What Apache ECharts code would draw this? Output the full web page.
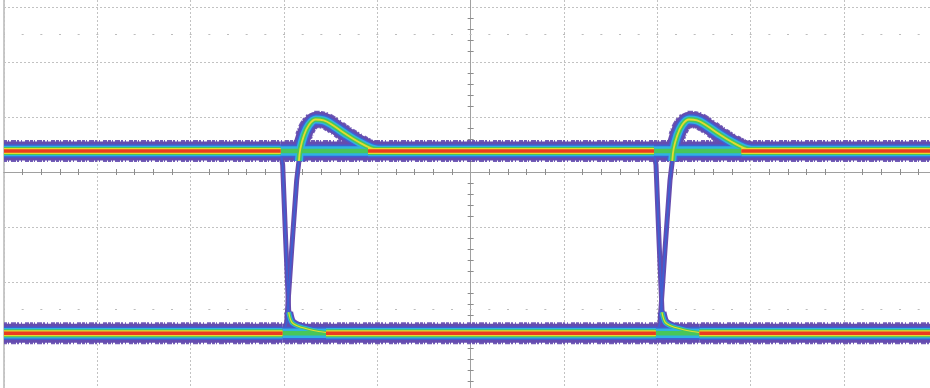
<!DOCTYPE html>
<html>
<head>
<meta charset="utf-8">
<style>
  html, body { margin: 0; padding: 0; background: #ffffff; }
  #scope { width: 930px; height: 388px; }
</style>
<script src="https://cdn.jsdelivr.net/npm/echarts@6/dist/echarts.min.js"></script>
</head>
<body>
<div id="scope"></div>
<script>
// Screen in divisions: time runs -5..5 div, amplitude -4..4 div (centre = 0,0)
const TIME_RANGE = [-5, 5];
const VOLT_RANGE = [-4, 4];

// Logic levels (div) and the two bit edges overlaid on the screen (div)
const HIGH_LEVEL = 0.38;
const LOW_LEVEL = -2.93;
const EDGE_TIMES = [-2, 2];

// Dotted reference rows (div)
const GUIDE_LEVELS = [2.5, -2.5];

// Edge shapes, as [time offset from the edge (div), amplitude (div)]
const FALLING_EDGE = [[-0.06, 0.38], [-0.035, 0.36], [-0.014, 0.13], [0.018, -1.24], [0.05, -2.51], [0.07, -2.68]];
const FALLING_TAIL = [[0.05, -2.55], [0.083, -2.73], [0.147, -2.80], [0.243, -2.85], [0.372, -2.90], [0.522, -2.93]];
const RISING_EDGE = [[-0.03, -2.93], [-0.003, -2.93], [0.029, -2.73], [0.082, -1.42], [0.136, -0.15], [0.168, 0.31]];
const RISING_OVERSHOOT = [[0.16, 0.2], [0.175, 0.42], [0.211, 0.65], [0.265, 0.85], [0.34, 0.955],
  [0.425, 0.94], [0.532, 0.84], [0.661, 0.69], [0.8, 0.545], [0.929, 0.436], [1.057, 0.38]];

// Stretch of each level, around an edge, where only part of the traces pass (div offsets)
const HIGH_SPLIT = [-0.035, 0.9];
const LOW_SPLIT = [-0.015, 0.45];

// Persistence colours, from rare hits to dense hits
const PALETTE = ['#654caf', '#3f5fd2', '#2fb2e2', '#48c65a', '#e4dc2e', '#ec3b20'];

// Layer line widths (px) per trace kind
const LEVEL_WIDTHS = [19, 13.5, 10.5, 8, 6, 3.5];
const PARTIAL_WIDTHS = [19, 13, 9.5, 4.5];
const OVERSHOOT_WIDTHS = [15.5, 11, 8, 5, 1.8];
const TAIL_WIDTHS = [9, 6.5, 4.5, 3, 1.2];
const EDGE_WIDTHS = [5, 1.8];

const shift = (pts, t) => pts.map(([dx, v]) => [t + dx, v]);

// Level segments: full density away from the edges, partial density right after each edge
function levelSegments(level, split) {
  const full = [];
  const partial = [];
  let start = TIME_RANGE[0];
  EDGE_TIMES.forEach(t => {
    full.push([[start, level], [t + split[0], level]]);
    partial.push([[t + split[0], level], [t + split[1], level]]);
    start = t + split[1];
  });
  full.push([[start, level], [TIME_RANGE[1], level]]);
  return { full, partial };
}

const series = [];

function addTrace(points, widths, opts) {
  opts = opts || {};
  widths.forEach((w, i) => {
    series.push({
      type: 'line',
      data: points,
      symbol: 'none',
      silent: true,
      animation: false,
      smooth: opts.smooth || false,
      z: 10 + i,
      lineStyle: { width: w, color: PALETTE[i], cap: opts.cap || 'round', join: 'round' }
    });
  });
}

// speckled fringe around the dense bands
function addFringe(points, width, smooth) {
  series.push({
    type: 'line',
    data: points,
    symbol: 'none',
    silent: true,
    animation: false,
    smooth: smooth || false,
    z: 9,
    lineStyle: { width: width, color: PALETTE[0], opacity: 0.9, type: [3, 1, 1, 2, 5, 1, 2, 2, 1, 3, 4, 1], cap: 'butt' }
  });
}

[HIGH_LEVEL, LOW_LEVEL].forEach(level => {
  addFringe([[TIME_RANGE[0], level], [TIME_RANGE[1], level]], 22);
});

const high = levelSegments(HIGH_LEVEL, HIGH_SPLIT);
const low = levelSegments(LOW_LEVEL, LOW_SPLIT);
high.full.concat(low.full).forEach(seg => addTrace(seg, LEVEL_WIDTHS, { cap: 'butt' }));
high.partial.concat(low.partial).forEach(seg => addTrace(seg, PARTIAL_WIDTHS, { cap: 'butt' }));

EDGE_TIMES.forEach(t => {
  addFringe(shift(RISING_OVERSHOOT, t).slice(2), 17.5, 0.4);
  addTrace(shift(RISING_OVERSHOOT, t), OVERSHOOT_WIDTHS, { smooth: 0.4, cap: 'butt' });
  addTrace(shift(FALLING_TAIL, t), TAIL_WIDTHS, { smooth: 0.3, cap: 'butt' });
  addTrace(shift(FALLING_EDGE, t), EDGE_WIDTHS);
  addTrace(shift(RISING_EDGE, t), EDGE_WIDTHS);
});

// dotted guide rows, one dot per minor division
series[0].markLine = {
  silent: true,
  animation: false,
  symbol: ['none', 'none'],
  label: { show: false },
  lineStyle: { color: '#bcbcbc', width: 1, type: [2, 16.667], dashOffset: 1 },
  data: GUIDE_LEVELS.map(v => ({ yAxis: v }))
};

const gridLine = { show: true, lineStyle: { color: '#c2c2c2', width: 1, type: [2, 2] } };
const centreLine = { show: true, onZero: true, lineStyle: { color: '#a0a0a0', width: 1 } };
const minor = { show: true, splitNumber: 5, length: 3, lineStyle: { color: '#8c8c8c', width: 1 } };

const option = {
  backgroundColor: '#ffffff',
  animation: false,
  grid: {
    left: 4, top: -48, width: 933.3, height: 440,
    outerBoundsMode: 'none', containLabel: false,
    show: true, borderColor: '#b8b8b8', borderWidth: 1.5, backgroundColor: 'transparent'
  },
  xAxis: [
    {
      type: 'value', min: TIME_RANGE[0], max: TIME_RANGE[1], interval: 1, position: 'bottom',
      axisLabel: { show: false }, splitLine: gridLine, axisLine: centreLine,
      axisTick: { show: false }, minorTick: minor
    },
    {
      type: 'value', min: TIME_RANGE[0], max: TIME_RANGE[1], interval: 1, position: 'top',
      axisLabel: { show: false }, splitLine: { show: false }, axisLine: centreLine,
      axisTick: { show: false }, minorTick: minor
    }
  ],
  yAxis: [
    {
      type: 'value', min: VOLT_RANGE[0], max: VOLT_RANGE[1], interval: 1, position: 'left',
      axisLabel: { show: false }, splitLine: gridLine, axisLine: centreLine,
      axisTick: { show: false }, minorTick: minor
    },
    {
      type: 'value', min: VOLT_RANGE[0], max: VOLT_RANGE[1], interval: 1, position: 'right',
      axisLabel: { show: false }, splitLine: { show: false }, axisLine: centreLine,
      axisTick: { show: false }, minorTick: minor
    }
  ],
  series: series
};

const chart = echarts.init(document.getElementById('scope'), null, { renderer: 'canvas' });
chart.setOption(option);
</script>
</body>
</html>
